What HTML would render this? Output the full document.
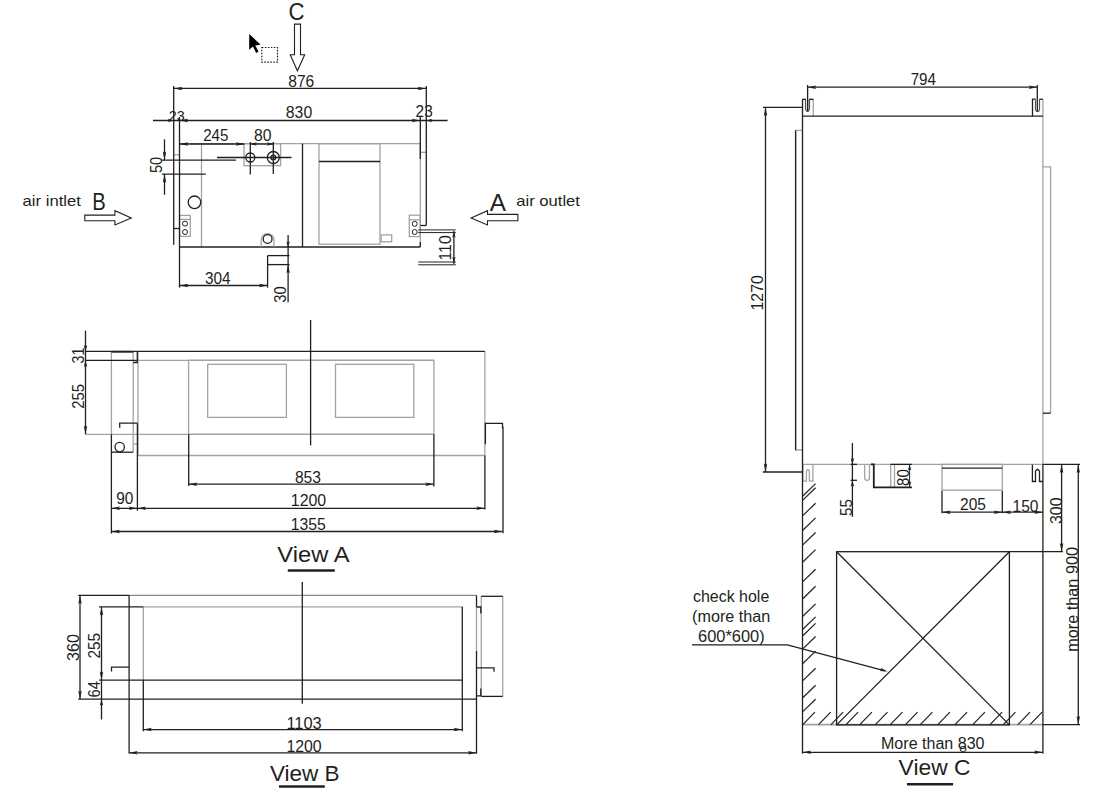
<!DOCTYPE html>
<html><head><meta charset="utf-8"><style>
html,body{margin:0;padding:0;background:#fff;width:1108px;height:797px;overflow:hidden}
svg{display:block}
text{font-family:"Liberation Sans",sans-serif}
</style></head><body>
<svg width="1108" height="797" viewBox="0 0 1108 797">
<line x1="179.5" y1="143.7" x2="420.3" y2="143.7" stroke="#a3a3a3" stroke-width="1.3"/>
<line x1="173.7" y1="154.8" x2="179.5" y2="154.8" stroke="#a3a3a3" stroke-width="1.3"/>
<line x1="420.3" y1="152.3" x2="426.3" y2="152.3" stroke="#a3a3a3" stroke-width="1.3"/>
<line x1="201.5" y1="143.7" x2="201.5" y2="247" stroke="#a3a3a3" stroke-width="1.3"/>
<rect x="319" y="143.7" width="61" height="100.5" fill="none" stroke="#a3a3a3" stroke-width="1.3"/>
<rect x="381.1" y="234.9" width="10.599999999999966" height="6.900000000000006" fill="none" stroke="#a3a3a3" stroke-width="1.3"/>
<line x1="420.3" y1="143.7" x2="420.3" y2="247" stroke="#a3a3a3" stroke-width="1.3"/>
<rect x="244" y="143.7" width="36.60000000000002" height="22.0" fill="none" stroke="#a3a3a3" stroke-width="1.3"/>
<rect x="179.6" y="215.4" width="10.700000000000017" height="21.0" fill="none" stroke="#a3a3a3" stroke-width="1.3"/>
<line x1="179.6" y1="219.4" x2="190.3" y2="219.4" stroke="#a3a3a3" stroke-width="1.3"/>
<rect x="409.3" y="215.2" width="10.899999999999977" height="21.400000000000006" fill="none" stroke="#a3a3a3" stroke-width="1.3"/>
<line x1="409.3" y1="219.8" x2="420.2" y2="219.8" stroke="#a3a3a3" stroke-width="1.3"/>
<line x1="137.4" y1="360.3" x2="433.9" y2="360.3" stroke="#a3a3a3" stroke-width="1.3"/>
<line x1="85.5" y1="434.3" x2="433.9" y2="434.3" stroke="#a3a3a3" stroke-width="1.3"/>
<rect x="188.6" y="360.3" width="245.29999999999998" height="74.0" fill="none" stroke="#a3a3a3" stroke-width="1.3"/>
<rect x="207.7" y="364.3" width="78.69999999999999" height="53.099999999999966" fill="none" stroke="#a3a3a3" stroke-width="1.3"/>
<rect x="335.5" y="364.3" width="78.30000000000001" height="53.099999999999966" fill="none" stroke="#a3a3a3" stroke-width="1.3"/>
<line x1="137.4" y1="455.5" x2="484.9" y2="455.5" stroke="#a3a3a3" stroke-width="1.3"/>
<line x1="484.9" y1="351.4" x2="484.9" y2="455.5" stroke="#888" stroke-width="1"/>
<line x1="111.4" y1="351.8" x2="111.4" y2="434.3" stroke="#a3a3a3" stroke-width="1.3"/>
<line x1="133.2" y1="351.8" x2="133.2" y2="452.2" stroke="#a3a3a3" stroke-width="1.3"/>
<line x1="138" y1="351.5" x2="138" y2="455.5" stroke="#a3a3a3" stroke-width="1.3"/>
<line x1="133.9" y1="443.9" x2="137.4" y2="443.9" stroke="#a3a3a3" stroke-width="1.3"/>
<line x1="129.1" y1="595.4" x2="476.5" y2="595.4" stroke="#888" stroke-width="1.3"/>
<line x1="143.3" y1="606.8" x2="462.3" y2="606.8" stroke="#a3a3a3" stroke-width="1.3"/>
<line x1="143.3" y1="606.8" x2="143.3" y2="680.1" stroke="#a3a3a3" stroke-width="1.3"/>
<line x1="476.5" y1="607" x2="476.5" y2="651" stroke="#a3a3a3" stroke-width="1.3"/>
<line x1="481.3" y1="596.3" x2="481.3" y2="696.4" stroke="#a3a3a3" stroke-width="1.3"/>
<line x1="502.7" y1="596.3" x2="502.7" y2="696.4" stroke="#a3a3a3" stroke-width="1.3"/>
<line x1="1042.9" y1="99.2" x2="1042.9" y2="464.3" stroke="#a3a3a3" stroke-width="1.3"/>
<line x1="813.3" y1="99.4" x2="813.3" y2="116.2" stroke="#a3a3a3" stroke-width="1.3"/>
<polyline points="802.5,130.4 795.6,130.4 795.6,450 802.5,450" fill="none" stroke="#a3a3a3" stroke-width="1.3" stroke-linejoin="miter"/>
<polyline points="1042.9,166.8 1050.6,166.8 1050.6,413.2" fill="none" stroke="#a3a3a3" stroke-width="1.3" stroke-linejoin="miter"/>
<line x1="802.5" y1="464.4" x2="1042.9" y2="464.4" stroke="#a3a3a3" stroke-width="1.3"/>
<polyline points="802.9,464.4 802.9,481.2 806.4,481.2 806.4,471 807.9,469.4 809.4,471 809.4,481.2 812.9,481.2 812.9,464.4" fill="none" stroke="#a3a3a3" stroke-width="1.3" stroke-linejoin="miter"/>
<path d="M864.7,464.4 V478 A2.4,2.4 0 0 0 869.5,478 V464.4" fill="none" stroke="#a3a3a3" stroke-width="1.3"/>
<line x1="890.7" y1="464.4" x2="890.7" y2="487.3" stroke="#a3a3a3" stroke-width="1.3"/>
<line x1="894.5" y1="464.4" x2="894.5" y2="487.3" stroke="#a3a3a3" stroke-width="1.3"/>
<rect x="942" y="464.4" width="60.299999999999955" height="25.700000000000045" fill="none" stroke="#a3a3a3" stroke-width="1.3"/>
<line x1="802.6" y1="724.7" x2="1042.9" y2="724.7" stroke="#a3a3a3" stroke-width="1.8"/>
<polygon points="294.5,24.1 300.5,24.1 300.5,54.7 304.7,54.7 297.4,70.8 290.2,54.7 294.5,54.7" fill="none" stroke="#231f20" stroke-width="1.1" stroke-linejoin="miter"/>
<polygon points="249.2,33.9 260.6,44.7 255.2,45.4 258.6,51.6 256.2,52.9 252.9,46.6 249.2,49.7" fill="#000"/>
<rect x="261.8" y="47.5" width="15.7" height="14.7" fill="none" stroke="#222" stroke-width="1.2" stroke-dasharray="1.6,1.4"/>
<line x1="173.7" y1="88.4" x2="426.3" y2="88.4" stroke="#231f20" stroke-width="1.3"/>
<polygon points="173.7,88.4 182.30,86.65 180.80,88.40 182.30,90.15" fill="#231f20"/>
<polygon points="426.3,88.4 417.70,90.15 419.20,88.40 417.70,86.65" fill="#231f20"/>
<line x1="153" y1="120.5" x2="447.6" y2="120.5" stroke="#231f20" stroke-width="1.3"/>
<polygon points="179.5,120.5 188.10,118.75 186.60,120.50 188.10,122.25" fill="#231f20"/>
<polygon points="420.3,120.5 411.70,122.25 413.20,120.50 411.70,118.75" fill="#231f20"/>
<polygon points="173.7,120.5 167.70,122.25 169.20,120.50 167.70,118.75" fill="#231f20"/>
<polygon points="426.3,120.5 432.30,118.75 430.80,120.50 432.30,122.25" fill="#231f20"/>
<line x1="179.5" y1="144" x2="244.5" y2="144" stroke="#231f20" stroke-width="1.3"/>
<line x1="250.3" y1="144" x2="273.3" y2="144" stroke="#231f20" stroke-width="1.3"/>
<polygon points="179.5,144 188.10,142.25 186.60,144.00 188.10,145.75" fill="#231f20"/>
<polygon points="244.5,144 235.90,145.75 237.40,144.00 235.90,142.25" fill="#231f20"/>
<polygon points="250.3,144 256.80,142.25 255.30,144.00 256.80,145.75" fill="#231f20"/>
<polygon points="273.3,144 266.80,145.75 268.30,144.00 266.80,142.25" fill="#231f20"/>
<line x1="173.7" y1="86" x2="173.7" y2="244.7" stroke="#231f20" stroke-width="1.3"/>
<line x1="173.7" y1="228.5" x2="179.5" y2="228.5" stroke="#231f20" stroke-width="1.3"/>
<line x1="426.3" y1="86" x2="426.3" y2="225.5" stroke="#231f20" stroke-width="1.3"/>
<line x1="420.3" y1="225.5" x2="426.3" y2="225.5" stroke="#231f20" stroke-width="1.3"/>
<line x1="179.5" y1="247" x2="420.3" y2="247" stroke="#231f20" stroke-width="1.3"/>
<line x1="179.5" y1="117" x2="179.5" y2="287.6" stroke="#231f20" stroke-width="1.3"/>
<line x1="302.5" y1="143.7" x2="302.5" y2="247" stroke="#231f20" stroke-width="1.3"/>
<line x1="319" y1="161.5" x2="380" y2="161.5" stroke="#231f20" stroke-width="1.3"/>
<line x1="420.3" y1="117" x2="420.3" y2="159" stroke="#231f20" stroke-width="1.3"/>
<line x1="420.3" y1="242" x2="420.3" y2="247" stroke="#231f20" stroke-width="1.3"/>
<circle cx="250.3" cy="157.5" r="4.5" fill="none" stroke="#231f20" stroke-width="1.3"/>
<circle cx="273.3" cy="157.5" r="6.0" fill="none" stroke="#231f20" stroke-width="1.3"/>
<circle cx="273.3" cy="157.5" r="2.4" fill="none" stroke="#231f20" stroke-width="1.3"/>
<line x1="217" y1="157.5" x2="291.5" y2="157.5" stroke="#231f20" stroke-width="1.3"/>
<line x1="250.3" y1="142" x2="250.3" y2="174.5" stroke="#231f20" stroke-width="1.3"/>
<line x1="273.3" y1="142" x2="273.3" y2="174" stroke="#231f20" stroke-width="1.3"/>
<line x1="162" y1="160.2" x2="236" y2="160.2" stroke="#231f20" stroke-width="1.3"/>
<line x1="162" y1="174.2" x2="205.8" y2="174.2" stroke="#231f20" stroke-width="1.3"/>
<line x1="164.5" y1="139.3" x2="164.5" y2="160.2" stroke="#231f20" stroke-width="1.3"/>
<polygon points="164.5,160.2 162.75,151.60 164.50,153.10 166.25,151.60" fill="#231f20"/>
<line x1="164.5" y1="174.2" x2="164.5" y2="194.8" stroke="#231f20" stroke-width="1.3"/>
<polygon points="164.5,174.2 166.25,182.80 164.50,181.30 162.75,182.80" fill="#231f20"/>
<circle cx="185" cy="223.6" r="2.5" fill="none" stroke="#231f20" stroke-width="1"/>
<circle cx="185" cy="232" r="2.5" fill="none" stroke="#231f20" stroke-width="1"/>
<circle cx="194.5" cy="202.3" r="6.3" fill="none" stroke="#231f20" stroke-width="1.3"/>
<path d="M261.2,247 V240 A6.4,6.4 0 0 1 274,240 V247" fill="none" stroke="#a3a3a3" stroke-width="1.3"/>
<circle cx="267.6" cy="239" r="4.4" fill="none" stroke="#231f20" stroke-width="1.3"/>
<line x1="267.6" y1="255.6" x2="289.6" y2="255.6" stroke="#231f20" stroke-width="1.3"/>
<line x1="267.6" y1="264.6" x2="289.6" y2="264.6" stroke="#231f20" stroke-width="1.3"/>
<line x1="267.6" y1="255.6" x2="267.6" y2="287.7" stroke="#231f20" stroke-width="1.3"/>
<line x1="288.1" y1="235" x2="288.1" y2="302.2" stroke="#231f20" stroke-width="1.3"/>
<polygon points="288.1,247.3 286.35,241.30 288.10,242.80 289.85,241.30" fill="#231f20"/>
<polygon points="288.1,264.6 289.85,273.20 288.10,271.70 286.35,273.20" fill="#231f20"/>
<line x1="179.6" y1="285.5" x2="267.6" y2="285.5" stroke="#231f20" stroke-width="1.3"/>
<polygon points="179.6,285.5 188.20,283.75 186.70,285.50 188.20,287.25" fill="#231f20"/>
<polygon points="267.6,285.5 259.00,287.25 260.50,285.50 259.00,283.75" fill="#231f20"/>
<circle cx="414.7" cy="223.8" r="2.5" fill="none" stroke="#231f20" stroke-width="1"/>
<circle cx="414.7" cy="232" r="2.5" fill="none" stroke="#231f20" stroke-width="1"/>
<line x1="418.3" y1="229.9" x2="455.8" y2="229.9" stroke="#231f20" stroke-width="1"/>
<line x1="418.3" y1="232.6" x2="455.8" y2="232.6" stroke="#231f20" stroke-width="1"/>
<line x1="418.3" y1="262.0" x2="455.8" y2="262.0" stroke="#231f20" stroke-width="1"/>
<line x1="418.3" y1="264.8" x2="455.8" y2="264.8" stroke="#231f20" stroke-width="1"/>
<line x1="453.9" y1="231" x2="453.9" y2="264" stroke="#231f20" stroke-width="1.3"/>
<polygon points="453.9,231.8 455.65,237.80 453.90,236.30 452.15,237.80" fill="#231f20"/>
<polygon points="453.9,262.7 452.15,256.70 453.90,258.20 455.65,256.70" fill="#231f20"/>
<polygon points="84.8,215.1 114.9,215.1 114.9,210.7 131.3,217.9 114.9,224.9 114.9,220.7 84.8,220.7" fill="none" stroke="#231f20" stroke-width="1.1" stroke-linejoin="miter"/>
<polygon points="471.1,217.9 487.5,210.7 487.5,214.4 517.9,214.4 517.9,220.7 487.5,220.7 487.5,224.9" fill="none" stroke="#231f20" stroke-width="1.1" stroke-linejoin="miter"/>
<line x1="85.5" y1="351.4" x2="484.9" y2="351.4" stroke="#231f20" stroke-width="1.3"/>
<line x1="85.5" y1="360.3" x2="137.4" y2="360.3" stroke="#231f20" stroke-width="1.3"/>
<line x1="310.6" y1="320" x2="310.6" y2="445.5" stroke="#231f20" stroke-width="1.3"/>
<line x1="484.9" y1="455.5" x2="484.9" y2="509.5" stroke="#231f20" stroke-width="1.3"/>
<line x1="111.4" y1="434.3" x2="111.4" y2="533.5" stroke="#231f20" stroke-width="1.3"/>
<line x1="111.4" y1="351.8" x2="133.2" y2="351.8" stroke="#231f20" stroke-width="1.8"/>
<line x1="111.4" y1="452.2" x2="133.2" y2="452.2" stroke="#231f20" stroke-width="1.3"/>
<circle cx="119.7" cy="447.1" r="4.7" fill="none" stroke="#231f20" stroke-width="1.3"/>
<polyline points="137.3,351.5 137.3,362.5 133.2,362.5" fill="none" stroke="#231f20" stroke-width="1.3" stroke-linejoin="miter"/>
<polyline points="119.7,427.8 119.7,423.2 137.4,423.2" fill="none" stroke="#231f20" stroke-width="1.3" stroke-linejoin="miter"/>
<line x1="137.4" y1="423.2" x2="137.4" y2="510.7" stroke="#231f20" stroke-width="1.3"/>
<polyline points="485.4,444.2 485.4,423.4 502.5,423.4 502.5,427.5 503,427.5 503,533.3" fill="none" stroke="#231f20" stroke-width="1.3" stroke-linejoin="miter"/>
<line x1="188.7" y1="434.3" x2="188.7" y2="486.1" stroke="#231f20" stroke-width="1.3"/>
<line x1="433.9" y1="434.3" x2="433.9" y2="486.4" stroke="#231f20" stroke-width="1.3"/>
<line x1="85.5" y1="330.7" x2="85.5" y2="434.3" stroke="#231f20" stroke-width="1.3"/>
<polygon points="85.5,351.4 83.75,344.90 85.50,346.40 87.25,344.90" fill="#231f20"/>
<polygon points="85.5,360.4 87.25,366.90 85.50,365.40 83.75,366.90" fill="#231f20"/>
<polygon points="85.5,434.3 83.75,425.70 85.50,427.20 87.25,425.70" fill="#231f20"/>
<line x1="188.7" y1="484.2" x2="433.9" y2="484.2" stroke="#231f20" stroke-width="1.3"/>
<polygon points="188.7,484.2 197.30,482.45 195.80,484.20 197.30,485.95" fill="#231f20"/>
<polygon points="433.9,484.2 425.30,485.95 426.80,484.20 425.30,482.45" fill="#231f20"/>
<line x1="111.4" y1="508.3" x2="484.9" y2="508.3" stroke="#231f20" stroke-width="1.3"/>
<polygon points="111.4,508.3 120.00,506.55 118.50,508.30 120.00,510.05" fill="#231f20"/>
<polygon points="137.4,508.3 128.80,510.05 130.30,508.30 128.80,506.55" fill="#231f20"/>
<polygon points="137.4,508.3 146.00,506.55 144.50,508.30 146.00,510.05" fill="#231f20"/>
<polygon points="484.9,508.3 476.30,510.05 477.80,508.30 476.30,506.55" fill="#231f20"/>
<line x1="111.4" y1="531.5" x2="502.5" y2="531.5" stroke="#231f20" stroke-width="1.3"/>
<polygon points="111.4,531.5 120.00,529.75 118.50,531.50 120.00,533.25" fill="#231f20"/>
<polygon points="502.5,531.5 493.90,533.25 495.40,531.50 493.90,529.75" fill="#231f20"/>
<line x1="287.8" y1="570.5" x2="334.8" y2="570.5" stroke="#231f20" stroke-width="2.4"/>
<line x1="78.2" y1="595.4" x2="129.1" y2="595.4" stroke="#231f20" stroke-width="1.3"/>
<line x1="99.1" y1="606.8" x2="143.3" y2="606.8" stroke="#231f20" stroke-width="1.3"/>
<line x1="99.1" y1="680.1" x2="462.3" y2="680.1" stroke="#231f20" stroke-width="1.3"/>
<line x1="78.2" y1="699.2" x2="476.5" y2="699.2" stroke="#231f20" stroke-width="1.3"/>
<line x1="129.1" y1="595.4" x2="129.1" y2="753.6" stroke="#231f20" stroke-width="1.3"/>
<line x1="143.3" y1="680.1" x2="143.3" y2="731.2" stroke="#231f20" stroke-width="1.3"/>
<line x1="476.5" y1="595.4" x2="476.5" y2="607" stroke="#231f20" stroke-width="1.3"/>
<line x1="476.5" y1="651" x2="476.5" y2="753.6" stroke="#231f20" stroke-width="1.3"/>
<line x1="462.3" y1="606.8" x2="462.3" y2="731.2" stroke="#231f20" stroke-width="1.3"/>
<line x1="302.3" y1="582" x2="302.3" y2="703.7" stroke="#231f20" stroke-width="1.3"/>
<polyline points="111.5,671.4 111.5,667.2 129.1,667.2" fill="none" stroke="#231f20" stroke-width="1.3" stroke-linejoin="miter"/>
<line x1="481.3" y1="596.3" x2="502.7" y2="596.3" stroke="#231f20" stroke-width="1.3"/>
<line x1="481.3" y1="696.4" x2="502.7" y2="696.4" stroke="#231f20" stroke-width="1.3"/>
<polyline points="476.5,607 480.8,607 480.8,613.5" fill="none" stroke="#231f20" stroke-width="1.3" stroke-linejoin="miter"/>
<polyline points="480.8,688.5 480.8,695.8 476.5,695.8" fill="none" stroke="#231f20" stroke-width="1.3" stroke-linejoin="miter"/>
<polyline points="476.5,667.9 494,667.9 494,671.7" fill="none" stroke="#231f20" stroke-width="1.3" stroke-linejoin="miter"/>
<line x1="80" y1="595.4" x2="80" y2="699.2" stroke="#231f20" stroke-width="1.3"/>
<polygon points="80,595.4 81.75,604.00 80.00,602.50 78.25,604.00" fill="#231f20"/>
<polygon points="80,699.2 78.25,690.60 80.00,692.10 81.75,690.60" fill="#231f20"/>
<line x1="101.5" y1="606.8" x2="101.5" y2="719.5" stroke="#231f20" stroke-width="1.3"/>
<polygon points="101.5,606.8 103.25,615.40 101.50,613.90 99.75,615.40" fill="#231f20"/>
<polygon points="101.5,680.1 99.75,671.50 101.50,673.00 103.25,671.50" fill="#231f20"/>
<polygon points="101.5,699.2 103.25,705.70 101.50,704.20 99.75,705.70" fill="#231f20"/>
<line x1="143.3" y1="729.6" x2="462.3" y2="729.6" stroke="#231f20" stroke-width="1.3"/>
<polygon points="143.3,729.6 151.90,727.85 150.40,729.60 151.90,731.35" fill="#231f20"/>
<polygon points="462.3,729.6 453.70,731.35 455.20,729.60 453.70,727.85" fill="#231f20"/>
<line x1="129.1" y1="752.8" x2="476.5" y2="752.8" stroke="#231f20" stroke-width="1.3"/>
<polygon points="129.1,752.8 137.70,751.05 136.20,752.80 137.70,754.55" fill="#231f20"/>
<polygon points="476.5,752.8 467.90,754.55 469.40,752.80 467.90,751.05" fill="#231f20"/>
<line x1="279" y1="786.5" x2="324.8" y2="786.5" stroke="#231f20" stroke-width="2.4"/>
<line x1="807.6" y1="87.2" x2="1037.3" y2="87.2" stroke="#231f20" stroke-width="1.3"/>
<polygon points="807.6,87.2 816.20,85.45 814.70,87.20 816.20,88.95" fill="#231f20"/>
<polygon points="1037.3,87.2 1028.70,88.95 1030.20,87.20 1028.70,85.45" fill="#231f20"/>
<line x1="807.6" y1="85" x2="807.6" y2="111.2" stroke="#231f20" stroke-width="1.3"/>
<line x1="1037.3" y1="85" x2="1037.3" y2="111.5" stroke="#231f20" stroke-width="1.3"/>
<line x1="802.5" y1="116.2" x2="1042.9" y2="116.2" stroke="#231f20" stroke-width="1.3"/>
<line x1="802.5" y1="99.4" x2="802.5" y2="753.7" stroke="#231f20" stroke-width="1.3"/>
<line x1="1042.9" y1="464.3" x2="1042.9" y2="753.7" stroke="#231f20" stroke-width="1.3"/>
<polyline points="802.5,99.4 805.5,99.4 805.5,109.2 806.6,111.2 808.4,111.2 809.5,109.2 809.5,99.4 813.3,99.4" fill="none" stroke="#555" stroke-width="1.2" stroke-linejoin="miter"/>
<line x1="802.5" y1="99.4" x2="805.5" y2="99.4" stroke="#231f20" stroke-width="1.3"/>
<line x1="809.5" y1="99.4" x2="813.3" y2="99.4" stroke="#231f20" stroke-width="1.3"/>
<polyline points="1032.5,116.2 1032.5,99.2 1035.5,99.2" fill="none" stroke="#231f20" stroke-width="1.3" stroke-linejoin="miter"/>
<polyline points="1035.5,99.2 1035.5,109.6 1036.5,111.5 1038.5,111.5 1039.5,109.6 1039.5,99.2" fill="none" stroke="#555" stroke-width="1.2" stroke-linejoin="miter"/>
<line x1="1039.5" y1="99.2" x2="1042.9" y2="99.2" stroke="#231f20" stroke-width="1.3"/>
<line x1="807.6" y1="99.4" x2="807.6" y2="111.2" stroke="#231f20" stroke-width="1.3"/>
<line x1="795.6" y1="130.4" x2="795.6" y2="450" stroke="#231f20" stroke-width="1.3"/>
<line x1="1042.9" y1="413.2" x2="1050.6" y2="413.2" stroke="#231f20" stroke-width="1.3"/>
<line x1="763" y1="107.4" x2="802.5" y2="107.4" stroke="#231f20" stroke-width="1.3"/>
<line x1="762.8" y1="472" x2="802.4" y2="472" stroke="#231f20" stroke-width="1.3"/>
<line x1="765.5" y1="107.4" x2="765.5" y2="472" stroke="#231f20" stroke-width="1.3"/>
<polygon points="765.5,107.4 767.25,116.00 765.50,114.50 763.75,116.00" fill="#231f20"/>
<polygon points="765.5,472 763.75,463.40 765.50,464.90 767.25,463.40" fill="#231f20"/>
<line x1="1042.9" y1="464.4" x2="1080" y2="464.4" stroke="#231f20" stroke-width="1.3"/>
<polyline points="1032.4,464.4 1032.4,481.5 1035.5,481.5 1035.5,471 1037.5,469.2 1039.5,471 1039.5,481.5 1042.9,481.5" fill="none" stroke="#231f20" stroke-width="1.3" stroke-linejoin="miter"/>
<line x1="852.4" y1="443" x2="852.4" y2="516.8" stroke="#231f20" stroke-width="1.3"/>
<polygon points="852.4,464.4 850.65,457.90 852.40,459.40 854.15,457.90" fill="#231f20"/>
<polygon points="852.4,480.3 854.15,486.80 852.40,485.30 850.65,486.80" fill="#231f20"/>
<line x1="850.5" y1="464.4" x2="857" y2="464.4" stroke="#231f20" stroke-width="1.3"/>
<line x1="850.5" y1="480.3" x2="857" y2="480.3" stroke="#231f20" stroke-width="1.3"/>
<polyline points="871,464.4 873.8,464.4 873.8,487.3 911.9,487.3" fill="none" stroke="#231f20" stroke-width="1.8" stroke-linejoin="miter"/>
<line x1="890.4" y1="464.4" x2="911.9" y2="464.4" stroke="#231f20" stroke-width="1.3"/>
<line x1="909.6" y1="464.4" x2="909.6" y2="487.3" stroke="#231f20" stroke-width="1"/>
<polygon points="909.6,464.4 911.35,470.40 909.60,468.90 907.85,470.40" fill="#231f20"/>
<polygon points="909.6,487.3 907.85,481.30 909.60,482.80 911.35,481.30" fill="#231f20"/>
<line x1="942" y1="468.2" x2="1002.3" y2="468.2" stroke="#231f20" stroke-width="1.3"/>
<line x1="942" y1="490.8" x2="942" y2="513.3" stroke="#231f20" stroke-width="1.3"/>
<line x1="1002.3" y1="490.8" x2="1002.3" y2="513.3" stroke="#231f20" stroke-width="1.3"/>
<line x1="942" y1="512.2" x2="1043" y2="512.2" stroke="#231f20" stroke-width="1.3"/>
<polygon points="942,512.2 950.60,510.45 949.10,512.20 950.60,513.95" fill="#231f20"/>
<polygon points="1002.3,512.2 993.70,513.95 995.20,512.20 993.70,510.45" fill="#231f20"/>
<polygon points="1002.3,512.2 1010.90,510.45 1009.40,512.20 1010.90,513.95" fill="#231f20"/>
<polygon points="1042.9,512.2 1034.30,513.95 1035.80,512.20 1034.30,510.45" fill="#231f20"/>
<line x1="1009.4" y1="551.7" x2="1063" y2="551.7" stroke="#231f20" stroke-width="1.3"/>
<line x1="1061.6" y1="464.4" x2="1061.6" y2="551.7" stroke="#231f20" stroke-width="1.3"/>
<polygon points="1061.6,464.4 1063.35,473.00 1061.60,471.50 1059.85,473.00" fill="#231f20"/>
<polygon points="1061.6,551.7 1059.85,543.10 1061.60,544.60 1063.35,543.10" fill="#231f20"/>
<line x1="1042.9" y1="724.6" x2="1080" y2="724.6" stroke="#231f20" stroke-width="1.3"/>
<line x1="1078.3" y1="464.4" x2="1078.3" y2="724.6" stroke="#231f20" stroke-width="1.3"/>
<polygon points="1078.3,464.4 1080.05,473.00 1078.30,471.50 1076.55,473.00" fill="#231f20"/>
<polygon points="1078.3,724.6 1076.55,716.00 1078.30,717.50 1080.05,716.00" fill="#231f20"/>
<rect x="836.6" y="551.7" width="172.79999999999995" height="173.19999999999993" fill="none" stroke="#231f20" stroke-width="1.3"/>
<line x1="836.6" y1="551.7" x2="1009.4" y2="724.9" stroke="#231f20" stroke-width="1.3"/>
<line x1="1009.4" y1="551.7" x2="836.6" y2="724.9" stroke="#231f20" stroke-width="1.3"/>
<line x1="802.8" y1="496" x2="815.6" y2="483.6" stroke="#231f20" stroke-width="1.2"/>
<line x1="802.8" y1="500.1" x2="815.6" y2="487.70000000000005" stroke="#231f20" stroke-width="1.2"/>
<line x1="802.8" y1="515.6" x2="815.6" y2="503.20000000000005" stroke="#231f20" stroke-width="1.2"/>
<line x1="802.8" y1="530.3" x2="815.6" y2="517.9" stroke="#231f20" stroke-width="1.2"/>
<line x1="802.8" y1="544.9" x2="815.6" y2="532.5" stroke="#231f20" stroke-width="1.2"/>
<line x1="802.8" y1="562" x2="815.6" y2="549.6" stroke="#231f20" stroke-width="1.2"/>
<line x1="802.8" y1="581.6" x2="815.6" y2="569.2" stroke="#231f20" stroke-width="1.2"/>
<line x1="802.8" y1="598.7" x2="815.6" y2="586.3000000000001" stroke="#231f20" stroke-width="1.2"/>
<line x1="802.8" y1="616.3" x2="815.6" y2="603.9" stroke="#231f20" stroke-width="1.2"/>
<line x1="802.8" y1="629.3" x2="815.6" y2="616.9" stroke="#231f20" stroke-width="1.2"/>
<line x1="802.8" y1="635.8" x2="815.6" y2="623.4" stroke="#231f20" stroke-width="1.2"/>
<line x1="802.8" y1="648.9" x2="815.6" y2="636.5" stroke="#231f20" stroke-width="1.2"/>
<line x1="802.8" y1="663.5" x2="815.6" y2="651.1" stroke="#231f20" stroke-width="1.2"/>
<line x1="802.8" y1="680.6" x2="815.6" y2="668.2" stroke="#231f20" stroke-width="1.2"/>
<line x1="802.8" y1="697.7" x2="815.6" y2="685.3000000000001" stroke="#231f20" stroke-width="1.2"/>
<line x1="802.8" y1="711.6" x2="815.6" y2="699.2" stroke="#231f20" stroke-width="1.2"/>
<line x1="802.8" y1="724.6" x2="814.9" y2="712.2" stroke="#231f20" stroke-width="1.2"/>
<line x1="818.6" y1="724.6" x2="830.7" y2="712.2" stroke="#231f20" stroke-width="1.2"/>
<line x1="831" y1="724.6" x2="843.1" y2="712.2" stroke="#231f20" stroke-width="1.2"/>
<line x1="846" y1="724.6" x2="858.1" y2="712.2" stroke="#231f20" stroke-width="1.2"/>
<line x1="859.8" y1="724.6" x2="871.9" y2="712.2" stroke="#231f20" stroke-width="1.2"/>
<line x1="875.4" y1="724.6" x2="887.5" y2="712.2" stroke="#231f20" stroke-width="1.2"/>
<line x1="890.3" y1="724.6" x2="902.4" y2="712.2" stroke="#231f20" stroke-width="1.2"/>
<line x1="905.5" y1="724.6" x2="917.6" y2="712.2" stroke="#231f20" stroke-width="1.2"/>
<line x1="920.3" y1="724.6" x2="932.4" y2="712.2" stroke="#231f20" stroke-width="1.2"/>
<line x1="937.8" y1="724.6" x2="949.9" y2="712.2" stroke="#231f20" stroke-width="1.2"/>
<line x1="955" y1="724.6" x2="967.1" y2="712.2" stroke="#231f20" stroke-width="1.2"/>
<line x1="972.8" y1="724.6" x2="984.9" y2="712.2" stroke="#231f20" stroke-width="1.2"/>
<line x1="990" y1="724.6" x2="1002.1" y2="712.2" stroke="#231f20" stroke-width="1.2"/>
<line x1="1003.3" y1="724.6" x2="1015.4" y2="712.2" stroke="#231f20" stroke-width="1.2"/>
<line x1="1017.9" y1="724.6" x2="1030.0" y2="712.2" stroke="#231f20" stroke-width="1.2"/>
<line x1="1030" y1="724.6" x2="1042.1" y2="712.2" stroke="#231f20" stroke-width="1.2"/>
<line x1="802.6" y1="752.3" x2="1042.7" y2="752.3" stroke="#231f20" stroke-width="1.3"/>
<polygon points="802.6,752.3 811.20,750.55 809.70,752.30 811.20,754.05" fill="#231f20"/>
<polygon points="1042.7,752.3 1034.10,754.05 1035.60,752.30 1034.10,750.55" fill="#231f20"/>
<line x1="907" y1="784.2" x2="953.1" y2="784.2" stroke="#231f20" stroke-width="2.4"/>
<polyline points="692,644.8 787.4,644.8 885,670.8" fill="none" stroke="#231f20" stroke-width="1.3" stroke-linejoin="miter"/>
<polygon points="887.8,671.5 879.62,671.12 881.52,669.82 880.53,667.74" fill="#231f20"/>
<text x="288.5" y="19.8" font-size="23.5" fill="#231f20" textLength="16.0" lengthAdjust="spacingAndGlyphs">C</text>
<text x="288.3" y="86.5" font-size="15.6" fill="#231f20" textLength="26.0" lengthAdjust="spacingAndGlyphs">876</text>
<text x="285.8" y="117.6" font-size="15.6" fill="#231f20" textLength="26.4" lengthAdjust="spacingAndGlyphs">830</text>
<text x="168.8" y="121" font-size="14" fill="#231f20" textLength="16.0" lengthAdjust="spacingAndGlyphs">23</text>
<text x="415.6" y="116.9" font-size="15.6" fill="#231f20" textLength="17.1" lengthAdjust="spacingAndGlyphs">23</text>
<text x="203.2" y="140.7" font-size="15.6" fill="#231f20" textLength="25.3" lengthAdjust="spacingAndGlyphs">245</text>
<text x="253.9" y="140.7" font-size="15.6" fill="#231f20" textLength="17.5" lengthAdjust="spacingAndGlyphs">80</text>
<text transform="translate(161.5,173.1) rotate(-90)" x="0" y="0" font-size="15.6" fill="#231f20" textLength="16.2" lengthAdjust="spacingAndGlyphs">50</text>
<text transform="translate(285.6,302.7) rotate(-90)" x="0" y="0" font-size="15.6" fill="#231f20" textLength="16.5" lengthAdjust="spacingAndGlyphs">30</text>
<text x="204.9" y="283.9" font-size="15.6" fill="#231f20" textLength="25.6" lengthAdjust="spacingAndGlyphs">304</text>
<text transform="translate(451.2,260.5) rotate(-90)" x="0" y="0" font-size="15.6" fill="#231f20" textLength="25.2" lengthAdjust="spacingAndGlyphs">110</text>
<text x="22.6" y="205.9" font-size="15" fill="#231f20" textLength="58.4" lengthAdjust="spacingAndGlyphs">air intlet</text>
<text x="92.3" y="210.3" font-size="23" fill="#231f20" textLength="13.5" lengthAdjust="spacingAndGlyphs">B</text>
<text x="489.8" y="211" font-size="24" fill="#231f20" textLength="16.2" lengthAdjust="spacingAndGlyphs">A</text>
<text x="516.2" y="205.9" font-size="15" fill="#231f20" textLength="63.8" lengthAdjust="spacingAndGlyphs">air outlet</text>
<text transform="translate(84,363.5) rotate(-90)" x="0" y="0" font-size="15.6" fill="#231f20" textLength="16.0" lengthAdjust="spacingAndGlyphs">31</text>
<text transform="translate(84,408.7) rotate(-90)" x="0" y="0" font-size="15.6" fill="#231f20" textLength="24.8" lengthAdjust="spacingAndGlyphs">255</text>
<text x="294.9" y="482.9" font-size="15.6" fill="#231f20" textLength="26.1" lengthAdjust="spacingAndGlyphs">853</text>
<text x="290.8" y="505.6" font-size="15.6" fill="#231f20" textLength="35.4" lengthAdjust="spacingAndGlyphs">1200</text>
<text x="116.2" y="503.7" font-size="15.6" fill="#231f20" textLength="17.2" lengthAdjust="spacingAndGlyphs">90</text>
<text x="290.8" y="530" font-size="15.6" fill="#231f20" textLength="35.1" lengthAdjust="spacingAndGlyphs">1355</text>
<text x="277.3" y="561.6" font-size="22.5" fill="#231f20" textLength="72.2" lengthAdjust="spacingAndGlyphs">View A</text>
<text transform="translate(78.5,661) rotate(-90)" x="0" y="0" font-size="15.6" fill="#231f20" textLength="27.0" lengthAdjust="spacingAndGlyphs">360</text>
<text transform="translate(100,658.6) rotate(-90)" x="0" y="0" font-size="15.6" fill="#231f20" textLength="25.6" lengthAdjust="spacingAndGlyphs">255</text>
<text transform="translate(100,697.4) rotate(-90)" x="0" y="0" font-size="15.6" fill="#231f20" textLength="16.4" lengthAdjust="spacingAndGlyphs">64</text>
<text x="286.4" y="728.8" font-size="15.6" fill="#231f20" textLength="35.3" lengthAdjust="spacingAndGlyphs">1103</text>
<text x="286.4" y="752" font-size="15.6" fill="#231f20" textLength="35.3" lengthAdjust="spacingAndGlyphs">1200</text>
<text x="269.9" y="781.2" font-size="22.5" fill="#231f20" textLength="69.7" lengthAdjust="spacingAndGlyphs">View B</text>
<text x="910.7" y="84.8" font-size="15.6" fill="#231f20" textLength="25.3" lengthAdjust="spacingAndGlyphs">794</text>
<text transform="translate(763.3,310.5) rotate(-90)" x="0" y="0" font-size="15.6" fill="#231f20" textLength="35.5" lengthAdjust="spacingAndGlyphs">1270</text>
<text transform="translate(851.5,516) rotate(-90)" x="0" y="0" font-size="15.6" fill="#231f20" textLength="16.8" lengthAdjust="spacingAndGlyphs">55</text>
<text transform="translate(909.3,486) rotate(-90)" x="0" y="0" font-size="15.6" fill="#231f20" textLength="16.8" lengthAdjust="spacingAndGlyphs">80</text>
<text x="960.1" y="510" font-size="15.6" fill="#231f20" textLength="25.9" lengthAdjust="spacingAndGlyphs">205</text>
<text x="1012.5" y="512.2" font-size="15.6" fill="#231f20" textLength="25.9" lengthAdjust="spacingAndGlyphs">150</text>
<text transform="translate(1061.5,524) rotate(-90)" x="0" y="0" font-size="15.6" fill="#231f20" textLength="26.5" lengthAdjust="spacingAndGlyphs">300</text>
<text transform="translate(1078,651.7) rotate(-90)" x="0" y="0" font-size="15.6" fill="#231f20" textLength="104.7" lengthAdjust="spacingAndGlyphs">more than 900</text>
<text x="881" y="749" font-size="15.6" fill="#231f20" textLength="103.5" lengthAdjust="spacingAndGlyphs">More than 830</text>
<text x="959.2" y="751.7" font-size="9" fill="#231f20" textLength="7.6" lengthAdjust="spacingAndGlyphs">0</text>
<text x="898.6" y="775.3" font-size="22.5" fill="#231f20" textLength="71.9" lengthAdjust="spacingAndGlyphs">View C</text>
<text x="693" y="602.2" font-size="15.6" fill="#231f20" textLength="76.3" lengthAdjust="spacingAndGlyphs">check hole</text>
<text x="692" y="622.3" font-size="15.6" fill="#231f20" textLength="78.3" lengthAdjust="spacingAndGlyphs">(more than</text>
<text x="698" y="642.4" font-size="15.6" fill="#231f20" textLength="66.7" lengthAdjust="spacingAndGlyphs">600*600)</text>
</svg>
</body></html>
